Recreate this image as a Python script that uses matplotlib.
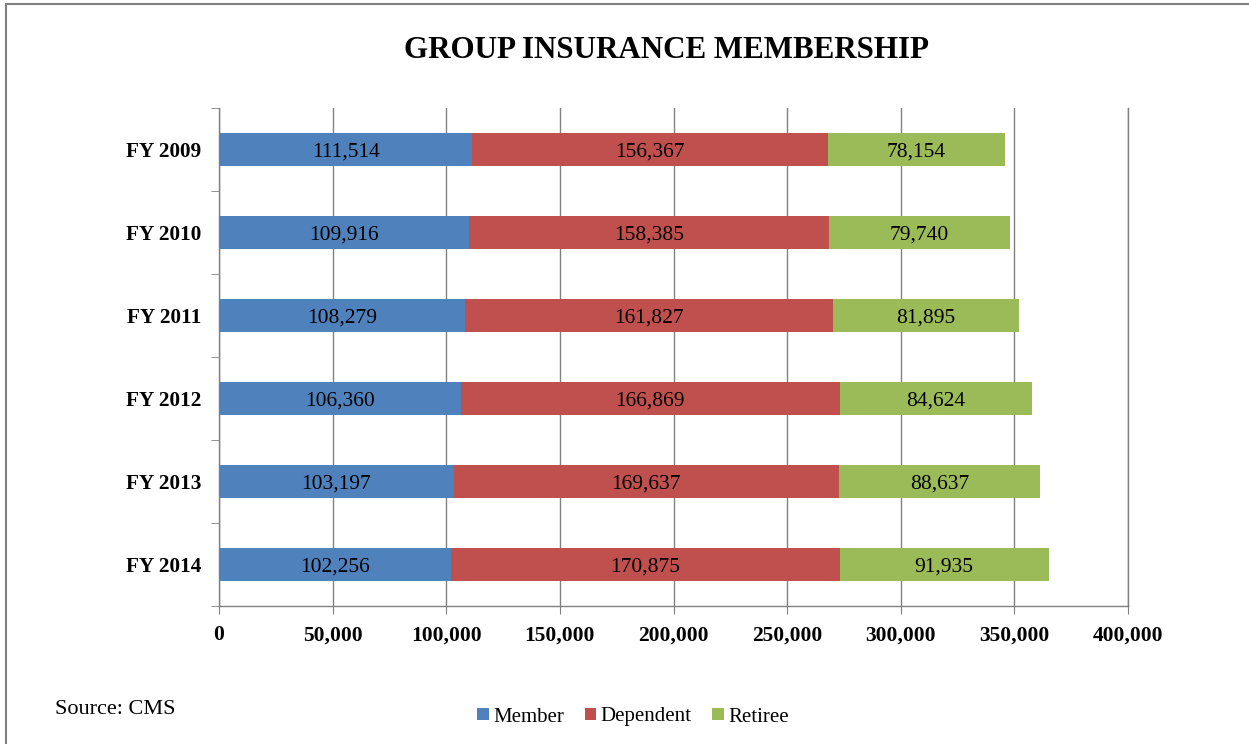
import matplotlib
matplotlib.use("Agg")
import matplotlib.pyplot as plt
from matplotlib.patches import Rectangle
import numpy as np

plt.rcParams['font.family'] = ['Liberation Serif', 'DejaVu Serif']

categories = ["FY 2009", "FY 2010", "FY 2011", "FY 2012", "FY 2013", "FY 2014"]
member = [111514, 109916, 108279, 106360, 103197, 102256]
dependent = [156367, 158385, 161827, 166869, 169637, 170875]
retiree = [78154, 79740, 81895, 84624, 88637, 91935]
series_names = ["Member", "Dependent", "Retiree"]
colors = ["#4F81BD", "#C0504D", "#9BBB59"]
xticks = [0, 50000, 100000, 150000, 200000, 250000, 300000, 350000, 400000]

fig = plt.figure(figsize=(12.49, 7.44), dpi=100)
ax = fig.add_axes([219/1249, 1-606/744, (1128-219)/1249, (606-108)/744])

y = np.arange(len(categories))
left = np.zeros(len(categories))
handles = []
for vals, name, c in zip([member, dependent, retiree], series_names, colors):
    vals = np.array(vals)
    h = ax.barh(y, vals, left=left, height=0.4, color=c, label=name, zorder=3)
    handles.append(h)
    for yi, l, v in zip(y, left, vals):
        ax.text(l + v/2, yi, f"{v:,}", ha='center', va='center_baseline', fontsize=15.5, zorder=4)
    left = left + vals

ax.set_ylim(5.5, -0.5)
ax.set_xlim(0, 400000)
ax.set_yticks(y)
ax.set_yticklabels(categories, fontsize=15.3, fontweight='bold')
ax.tick_params(axis='y', which='major', length=0, pad=13)
for lbl in ax.get_yticklabels():
    lbl.set_verticalalignment('center_baseline')
ax.set_yticks(np.arange(-0.5, 6, 1), minor=True)
ax.tick_params(axis='y', which='minor', length=6, color='#808080')
ax.set_xticks(xticks)
ax.set_xticklabels([f"{v:,}" for v in xticks], fontsize=15.5, fontweight='bold')
ax.tick_params(axis='x', length=6, color='#808080', pad=8)
ax.grid(axis='x', color='#808080', linewidth=1, zorder=0)
ax.axvline(400000, color='#808080', linewidth=1, clip_on=False, zorder=0)
for s in ['top', 'right']:
    ax.spines[s].set_visible(False)
for s in ['left', 'bottom']:
    ax.spines[s].set_color('#808080')
    ax.spines[s].set_linewidth(1)

fig.text(666/1249, 1-50/744, "GROUP INSURANCE MEMBERSHIP", ha='center', va='center',
         fontsize=22.3, fontweight='bold')
fig.text(55/1249, 1-710/744, "Source: CMS", ha='left', va='center', fontsize=16)

leg = fig.legend(handles=handles, labels=series_names, loc='center', bbox_to_anchor=(633/1249, 1-717/744),
                 ncol=3, frameon=False, fontsize=15, handlelength=0.55, handleheight=0.55,
                 handletextpad=0.2, columnspacing=1.0)

fig.patches.append(Rectangle((6/1249, -0.1), 1.2, (1-4/744)+0.1, transform=fig.transFigure,
                             fill=False, edgecolor='#808080', linewidth=1.5))

fig.savefig("out.png", dpi=100)
